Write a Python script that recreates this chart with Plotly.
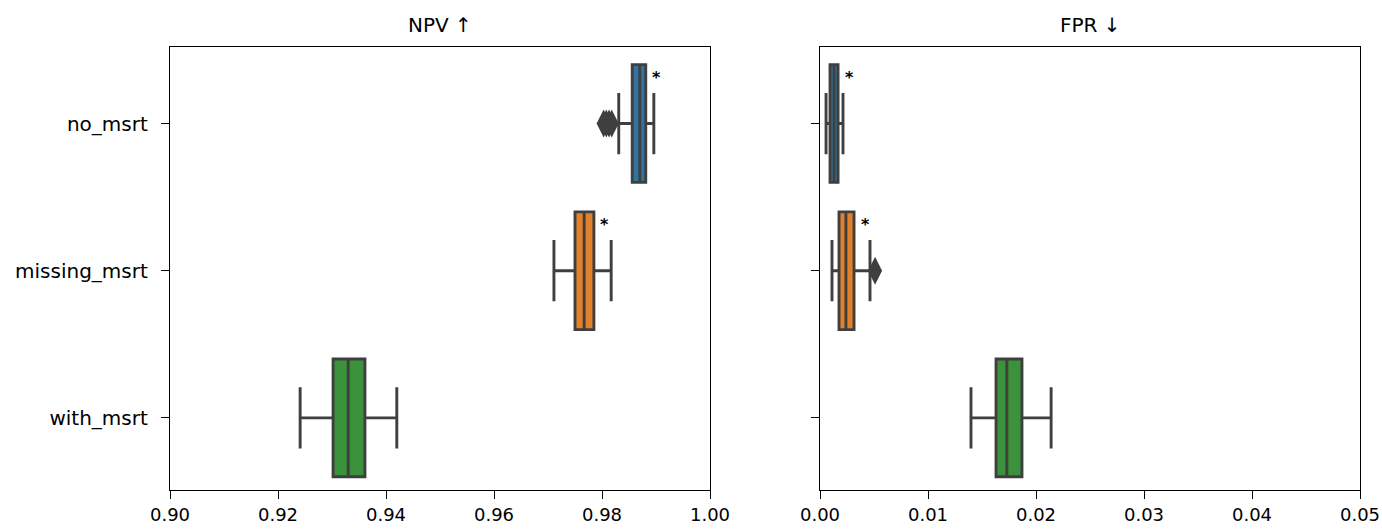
import plotly.graph_objects as go
from plotly.subplots import make_subplots

categories = ["no_msrt", "missing_msrt", "with_msrt"]
colors = ["#3274a1", "#e1812c", "#3a923a"]

# NPV stats per category: lower whisker, q1, median, q3, upper whisker
npv_low = [0.9831, 0.9711, 0.9241]
npv_q1 = [0.9856, 0.9750, 0.9302]
npv_med = [0.9870, 0.9767, 0.9330]
npv_q3 = [0.9881, 0.9785, 0.9361]
npv_high = [0.9896, 0.9817, 0.9420]
npv_outliers = {"no_msrt": [0.9803, 0.9808, 0.9813, 0.9818]}

# FPR stats
fpr_low = [0.00056, 0.00111, 0.01398]
fpr_q1 = [0.00093, 0.00176, 0.01630]
fpr_med = [0.00130, 0.00240, 0.01730]
fpr_q3 = [0.00167, 0.00315, 0.01870]
fpr_high = [0.00213, 0.00463, 0.02140]
fpr_outliers = {"missing_msrt": [0.0051]}

starred = ["no_msrt", "missing_msrt"]

fig = make_subplots(rows=1, cols=2, horizontal_spacing=110 / 1190)

EDGE = "#3f3f3f"

def add_panel(col, low, q1, med, q3, high, outliers):
    for i, cat in enumerate(categories):
        fig.add_trace(go.Box(
            y=[cat], q1=[q1[i]], median=[med[i]], q3=[q3[i]],
            lowerfence=[low[i]], upperfence=[high[i]],
            orientation="h", fillcolor=colors[i],
            line=dict(color=EDGE, width=2.9),
            width=0.8, whiskerwidth=0.52, boxpoints=False,
            showlegend=False, hoverinfo="skip",
        ), row=1, col=col)
        if cat in outliers:
            vals = outliers[cat]
            fig.add_trace(go.Scatter(
                x=vals, y=[cat] * len(vals), mode="markers",
                marker=dict(symbol="diamond-tall", size=20, color=EDGE, line=dict(width=0)),
                showlegend=False, hoverinfo="skip",
            ), row=1, col=col)
        if cat in starred:
            xref = "x" if col == 1 else "x2"
            yref = "y" if col == 1 else "y2"
            fig.add_annotation(x=q3[i], y=cat, xref=xref, yref=yref, text="<b>*</b>",
                               showarrow=False, xshift=11, yshift=46,
                               font=dict(size=16, color="black", family="DejaVu Sans"))

add_panel(1, npv_low, npv_q1, npv_med, npv_q3, npv_high, npv_outliers)
add_panel(2, fpr_low, fpr_q1, fpr_med, fpr_q3, fpr_high, fpr_outliers)

axis_common = dict(showline=True, linecolor="black", linewidth=1.4, mirror=True,
                   ticks="outside", ticklen=8, tickwidth=1.4, tickcolor="black",
                   showgrid=False, zeroline=False, automargin=False)

xfont = dict(family="DejaVu Sans", size=18, color="black")
yfont = dict(family="DejaVu Sans", size=20, color="black")

fig.update_xaxes(range=[0.90, 1.00], tickvals=[0.90, 0.92, 0.94, 0.96, 0.98, 1.00],
                 ticktext=["0.90", "0.92", "0.94", "0.96", "0.98", "1.00"],
                 tickfont=xfont, row=1, col=1, **axis_common)
fig.update_xaxes(range=[0.0, 0.05], tickvals=[0.0, 0.01, 0.02, 0.03, 0.04, 0.05],
                 ticktext=["0.00", "0.01", "0.02", "0.03", "0.04", "0.05"],
                 tickfont=xfont, row=1, col=2, **axis_common)
fig.update_yaxes(type="category", categoryorder="array", categoryarray=categories,
                 range=[2.49, -0.52], tickfont=yfont, ticklabelstandoff=9,
                 row=1, col=1, **axis_common)
fig.update_yaxes(type="category", categoryorder="array", categoryarray=categories,
                 range=[2.49, -0.52], showticklabels=False, row=1, col=2, **axis_common)

fig.add_annotation(text="NPV ↑", xref="x domain", yref="paper", x=0.5, y=1, yanchor="bottom",
                   yshift=8, showarrow=False, font=dict(family="DejaVu Sans", size=20, color="black"))
fig.add_annotation(text="FPR ↓", xref="x2 domain", yref="paper", x=0.5, y=1, yanchor="bottom",
                   yshift=8, showarrow=False, font=dict(family="DejaVu Sans", size=20, color="black"))

fig.update_layout(width=1382, height=529, margin=dict(l=170, r=22, t=47, b=39, autoexpand=False),
                  plot_bgcolor="white", paper_bgcolor="white",
                  font=dict(family="DejaVu Sans", color="black"))

fig.write_html("out.html", config={"displayModeBar": False},
               post_script="document.body.style.margin='0';document.body.style.overflow='hidden';")
